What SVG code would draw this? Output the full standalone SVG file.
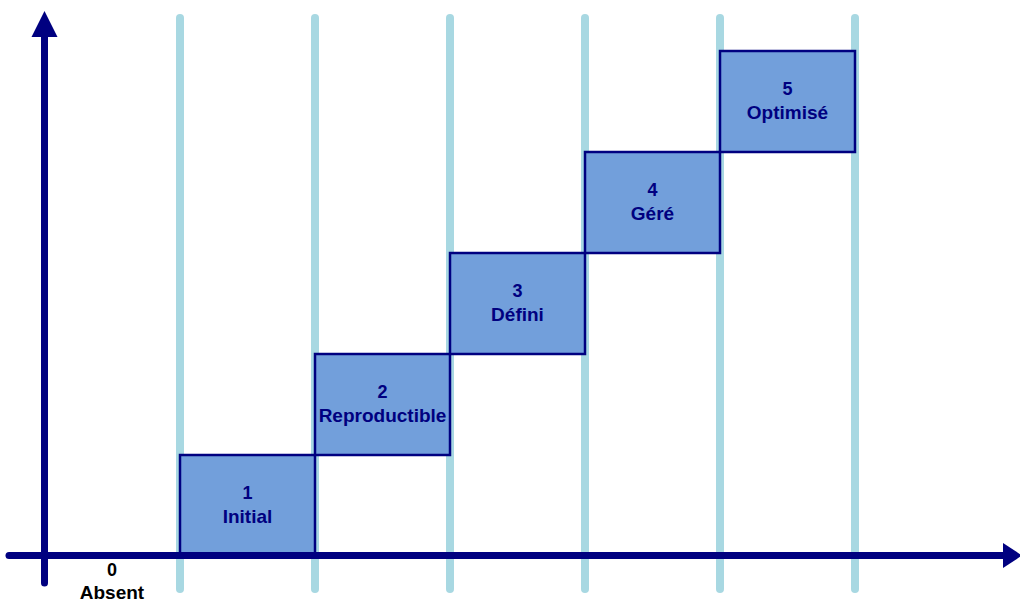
<svg xmlns="http://www.w3.org/2000/svg" width="1020" height="602" viewBox="0 0 1020 602">
<style>
.grid{stroke:#a8d8e2;stroke-width:8;stroke-linecap:round;fill:none}
.axis{stroke:#000080;stroke-width:7;stroke-linecap:round;fill:none}
.box{fill:#729fdb;stroke:#000080;stroke-width:2.5}
.num{font-family:"Liberation Sans",Arial,sans-serif;font-size:18px;font-weight:bold;fill:#000080;text-anchor:middle}
.lbl{font-family:"Liberation Sans",Arial,sans-serif;font-size:19px;font-weight:bold;fill:#000080;text-anchor:middle}
.k{fill:#000000}
</style>
<rect width="1020" height="602" fill="#ffffff"/>
<g id="grid">
<line class="grid" x1="180" y1="18" x2="180" y2="589"/>
<line class="grid" x1="315" y1="18" x2="315" y2="589"/>
<line class="grid" x1="450" y1="18" x2="450" y2="589"/>
<line class="grid" x1="585" y1="18" x2="585" y2="589"/>
<line class="grid" x1="720" y1="18" x2="720" y2="589"/>
<line class="grid" x1="855" y1="18" x2="855" y2="589"/>
</g>
<g id="level1"><rect class="box" x="180" y="455" width="135" height="100"/><text class="num" x="247.5" y="499">1</text><text class="lbl" x="247.5" y="523">Initial</text></g>
<g id="level2"><rect class="box" x="315" y="354" width="135" height="101"/><text class="num" x="382.5" y="398">2</text><text class="lbl" x="382.5" y="422">Reproductible</text></g>
<g id="level3"><rect class="box" x="450" y="253" width="135" height="101"/><text class="num" x="517.5" y="297">3</text><text class="lbl" x="517.5" y="321">Défini</text></g>
<g id="level4"><rect class="box" x="585" y="152" width="135" height="101"/><text class="num" x="652.5" y="196">4</text><text class="lbl" x="652.5" y="220">Géré</text></g>
<g id="level5"><rect class="box" x="720" y="51" width="135" height="101"/><text class="num" x="787.5" y="95">5</text><text class="lbl" x="787.5" y="119">Optimisé</text></g>
<g id="level0"><text class="num k" x="112" y="576">0</text><text class="lbl k" x="112" y="599">Absent</text></g>
<g id="connectors">
<line class="axis" x1="44.5" y1="583" x2="44.5" y2="35"/>
<polygon points="44.5,11 31.5,37 57.5,37" fill="#000080"/>
<line class="axis" x1="9" y1="555.5" x2="1005" y2="555.5"/>
<polygon points="1022,555.5 1003,543 1003,568" fill="#000080"/>
</g>
</svg>
